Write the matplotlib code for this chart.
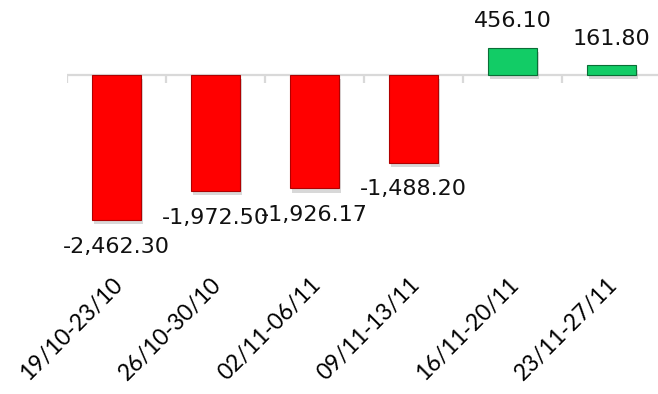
import matplotlib
matplotlib.use("Agg")
import matplotlib.pyplot as plt
import matplotlib.patheffects as pe
import numpy as np

categories = ["19/10-23/10", "26/10-30/10", "02/11-06/11", "09/11-13/11", "16/11-20/11", "23/11-27/11"]
values = [-2462.30, -1972.50, -1926.17, -1488.20, 456.10, 161.80]
labels = ["-2,462.30", "-1,972.50", "-1,926.17", "-1,488.20", "456.10", "161.80"]

W, H = 658, 394
fig = plt.figure(figsize=(W / 100, H / 100), dpi=100)
ax = fig.add_axes([67 / W, 0, 594 / W, 1])
ax.set_xlim(-0.5, len(categories) - 0.5)
ax.set_ylim(-5416, 1273)
ax.axis("off")

x = np.arange(len(categories))
face = ["#ff0000" if v < 0 else "#12cc66" for v in values]
edge = ["#b00000" if v < 0 else "#0a6e36" for v in values]
bars = ax.bar(x, values, width=0.5, color=face, edgecolor=edge, linewidth=0.8, zorder=3)
for b in bars:
    b.set_path_effects([pe.SimplePatchShadow(offset=(1.5, -3), alpha=0.25, shadow_rgbFace="#666666"), pe.Normal()])

# axis line at zero with category boundary ticks
ax.axhline(0, color="#d9d9d9", linewidth=1.6, zorder=2, xmin=0, xmax=1)
bounds = np.arange(len(categories) + 1) - 0.5
ax.vlines(bounds, -140, 0, color="#d9d9d9", linewidth=1.6, zorder=2)

for xi, v, lab in zip(x, values, labels):
    if v < 0:
        ax.annotate(lab, (xi, v), xytext=(0, -12), textcoords="offset points",
                    ha="center", va="top", fontsize=16, family="DejaVu Sans", color="#111111", zorder=5)
    else:
        ax.annotate(lab, (xi, v), xytext=(0, 12), textcoords="offset points",
                    ha="center", va="bottom", fontsize=16, family="DejaVu Sans", color="#111111", zorder=5)

for xi, cat in zip(x, categories):
    ax.annotate(cat, (xi, 1 - 281 / H), xycoords=("data", "axes fraction"),
                xytext=(2, 0), textcoords="offset points",
                ha="right", va="center", rotation=45, rotation_mode="anchor",
                fontsize=16.5, family="Lato", color="#000000")

fig.savefig("out.png", dpi=100)
